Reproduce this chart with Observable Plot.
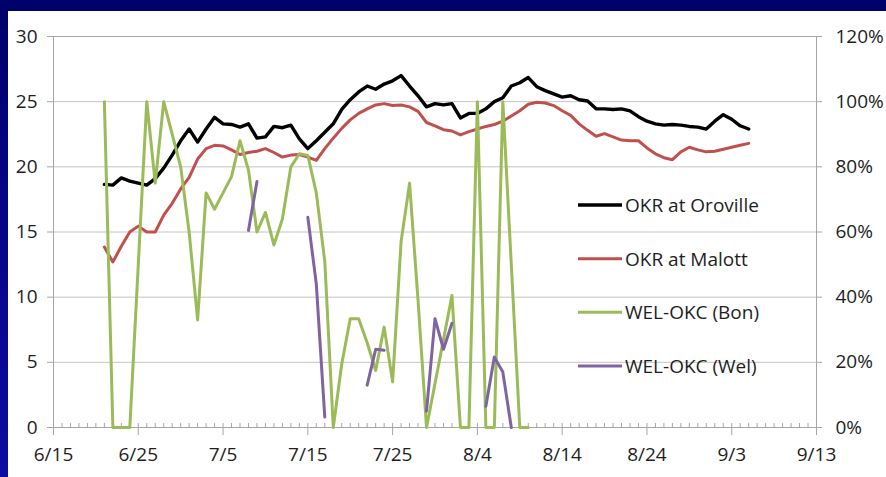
<!DOCTYPE html>
<html><head><meta charset="utf-8">
<script src="https://cdn.jsdelivr.net/npm/d3@7"></script>
<script src="https://cdn.jsdelivr.net/npm/@observablehq/plot@0.6"></script>
<style>
html,body{margin:0;padding:0;background:#00006a;}
#wrap{position:relative;width:886px;height:477px;}
#legend{position:absolute;left:0;top:0;pointer-events:none;}
</style></head><body><div id="wrap"></div>
<script>
// ---- data (daily, first value on 6/21) ----
const firstDay = "2012-06-21";
const oroville = [18.65,18.6,19.15,18.9,18.75,18.6,19.1,19.9,20.9,22.0,22.9,21.9,22.9,23.8,23.3,23.25,23.05,23.3,22.2,22.3,23.1,23.0,23.2,22.15,21.4,22.0,22.65,23.3,24.4,25.15,25.75,26.2,25.95,26.35,26.6,27.0,26.2,25.45,24.6,24.85,24.75,24.85,23.75,24.1,24.1,24.45,25.0,25.3,26.2,26.45,26.85,26.15,25.85,25.6,25.35,25.45,25.15,25.05,24.45,24.45,24.4,24.45,24.3,23.85,23.5,23.3,23.2,23.25,23.2,23.1,23.05,22.9,23.5,24.0,23.65,23.15,22.9];
const malott = [13.85,12.7,13.9,15.0,15.45,15.0,15.0,16.3,17.2,18.3,19.2,20.6,21.4,21.65,21.6,21.3,20.95,21.1,21.2,21.4,21.1,20.75,20.9,20.95,20.75,20.5,21.4,22.2,22.95,23.6,24.1,24.45,24.75,24.85,24.7,24.75,24.6,24.25,23.4,23.15,22.85,22.75,22.45,22.7,22.9,23.1,23.25,23.5,23.9,24.3,24.8,24.95,24.9,24.7,24.3,23.95,23.3,22.8,22.35,22.55,22.3,22.05,22.0,22.0,21.45,21.0,20.7,20.55,21.15,21.5,21.3,21.15,21.2,21.35,21.5,21.65,21.8];
// percentages (secondary axis)
const welBon = [100,0,0,0,50,100,75,100,90,80,60,33,72,67,72,77,88,79,60,66,56,64,80,84,83.5,72,51,0,19.5,33.4,33.4,26,17.5,30.8,14,57,75,39,0,13.5,27,40.5,0,0,100,0,0,100,50,0,0];
const welWel = [null,null,null,null,null,null,null,null,null,null,null,null,null,null,null,null,null,60.5,75.5,null,null,null,null,null,64.5,44,3.2,null,null,null,null,13,24,23.7,null,null,null,null,5,33.4,24,32,null,null,null,6.5,21.6,17,0,null,null];

const seriesNames = ["OKR at Oroville","OKR at Malott","WEL-OKC (Bon)","WEL-OKC (Wel)"];
const xTickLabels = ["6/15","6/25","7/5","7/15","7/25","8/4","8/14","8/24","9/3","9/13"];
const leftTicks = [0,5,10,15,20,25,30];
const rightTickLabels = ["0%","20%","40%","60%","80%","100%","120%"];
const primaryMax = 30, secondaryMax = 120;

// ---- styles ----
const colors = ["#000000","#c0504d","#9bbb59","#8064a2"];
const year = 2012;

const parseTick = s => { const [m,d] = s.split("/").map(Number); return new Date(Date.UTC(year, m-1, d)); };
const xTicks = xTickLabels.map(parseTick);
const x0 = xTicks[0], x1 = xTicks[xTicks.length-1];
const start = new Date(firstDay + "T00:00:00Z");
const toRows = arr => arr.map((v,i) => ({date: d3.utcDay.offset(start, i), v}));
const k = primaryMax / secondaryMax;
const rowsO = toRows(oroville), rowsM = toRows(malott);
const rowsB = toRows(welBon).map(r => ({...r, v: r.v == null ? null : r.v * k}));
const rowsW = toRows(welWel).map(r => ({...r, v: r.v == null ? null : r.v * k}));
const minorDays = d3.utcDay.range(x0, d3.utcDay.offset(x1, 1));
const fmt = d => xTickLabels[xTicks.findIndex(t => +t === +d)];

const plot = Plot.plot({
  width: 886, height: 477,
  marginLeft: 53, marginRight: 70, marginTop: 36, marginBottom: 50,
  style: {
    fontFamily: "'Open Sans', sans-serif", fontSize: "19px", color: "#1e1e1e",
    background: "linear-gradient(#fff,#fff) 8px 11px / 878px 466px no-repeat, linear-gradient(180deg,#00006a 0%,#040482 35%,#0c0ca2 100%)"
  },
  x: {type: "utc", domain: [x0, x1], axis: null},
  y: {domain: [0, primaryMax], axis: null},
  marks: [
    Plot.gridY(leftTicks, {stroke: "#c4c4c4", strokeOpacity: 1}),
    Plot.frame({stroke: "#a6a6a6"}),
    Plot.axisY(leftTicks, {anchor: "left", tickSize: 6, tickPadding: 10, stroke: "#a6a6a6", tickFormat: d => String(d), label: null}),
    Plot.axisY(leftTicks, {anchor: "right", tickSize: 5, tickPadding: 14, stroke: "#a6a6a6", tickFormat: d => rightTickLabels[leftTicks.indexOf(d)], label: null}),
    Plot.axisX(minorDays, {anchor: "bottom", tickSize: -4, stroke: "#a6a6a6", tickFormat: () => "", label: null}),
    Plot.axisX(xTicks, {anchor: "bottom", tickSize: 8, tickPadding: 12, stroke: "#a6a6a6", tickFormat: fmt, label: null}),
    Plot.line(rowsO, {x: "date", y: "v", stroke: colors[0], strokeWidth: 3.4}),
    Plot.line(rowsM, {x: "date", y: "v", stroke: colors[1], strokeWidth: 3}),
    Plot.line(rowsB, {x: "date", y: "v", stroke: colors[2], strokeWidth: 3}),
    Plot.line(rowsW, {x: "date", y: "v", stroke: colors[3], strokeWidth: 3})
  ]
});
const wrap = document.getElementById("wrap");
wrap.appendChild(plot);

// legend overlay
const lg = d3.select(wrap).append("svg").attr("id","legend").attr("width",886).attr("height",477)
  .style("font-family","'Open Sans', sans-serif").style("font-size","19px");
const rowY = [205, 258.7, 312.3, 366];
seriesNames.forEach((name, i) => {
  lg.append("line").attr("x1",578).attr("x2",622).attr("y1",rowY[i]).attr("y2",rowY[i])
    .attr("stroke",colors[i]).attr("stroke-width", i===0?3.4:3);
  lg.append("text").attr("x",625).attr("y",rowY[i]).attr("dy","0.36em").attr("fill","#1e1e1e").text(name);
});
</script></body></html>
